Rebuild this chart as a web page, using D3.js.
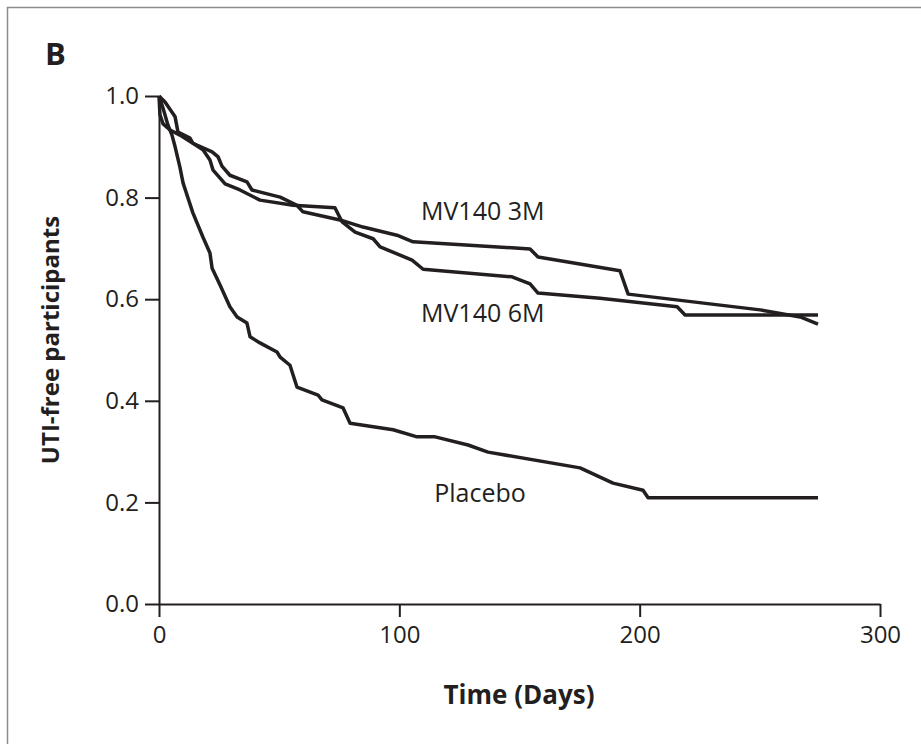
<!DOCTYPE html>
<html>
<head>
<meta charset="utf-8">
<script src="https://cdn.jsdelivr.net/npm/d3@7"></script>
<style>
  html, body { margin: 0; padding: 0; background: #fff; }
  svg { display: block; }
  text { font-family: "Open Sans", "Noto Sans", sans-serif; fill: #231f20; }
</style>
</head>
<body>
<svg id="chart" width="921" height="744"></svg>
<script>
// Kaplan-Meier style survival estimates: [day, proportion UTI-free]
const mv140_3M = [
  [0, 1.0], [2.5, 0.988], [6.7, 0.959], [7.9, 0.929], [12.9, 0.917], [14.1, 0.907],
  [22.1, 0.890], [24.6, 0.880], [26.2, 0.862], [29.5, 0.844], [36.6, 0.831],
  [38.7, 0.815], [50.4, 0.801], [57.4, 0.785], [59.9, 0.772], [75.3, 0.756],
  [84.9, 0.742], [99.0, 0.726], [105.7, 0.713], [154.4, 0.699], [157.7, 0.683],
  [191.8, 0.656], [195.2, 0.610], [250.1, 0.579], [266.8, 0.565], [274.2, 0.551]
];
const mv140_6M = [
  [0, 1.0], [0.4, 0.963], [1.7, 0.945], [4.6, 0.933], [8.7, 0.923], [14.1, 0.907],
  [18.3, 0.894], [21.2, 0.874], [22.5, 0.854], [27.5, 0.827], [33.7, 0.815],
  [42.0, 0.795], [55.8, 0.785], [73.2, 0.780], [76.2, 0.752], [81.6, 0.732],
  [89.1, 0.719], [92.0, 0.703], [105.3, 0.677], [109.9, 0.659], [146.9, 0.644],
  [154.4, 0.630], [157.7, 0.612], [183.5, 0.602], [215.6, 0.585], [218.9, 0.569],
  [274.2, 0.569]
];
const placebo = [
  [0, 1.0], [1.7, 0.976], [3.7, 0.943], [5.4, 0.923], [6.7, 0.900], [8.7, 0.860],
  [10.0, 0.829], [14.1, 0.770], [18.3, 0.722], [21.2, 0.691], [22.1, 0.661],
  [25.4, 0.628], [29.5, 0.585], [32.5, 0.565], [36.6, 0.553], [37.9, 0.526],
  [42.0, 0.514], [49.1, 0.496], [50.4, 0.486], [54.5, 0.470], [57.4, 0.427],
  [66.2, 0.411], [67.8, 0.402], [76.6, 0.386], [79.5, 0.356], [97.4, 0.343],
  [107.4, 0.329], [114.9, 0.329], [128.6, 0.313], [136.9, 0.299], [175.2, 0.268],
  [188.9, 0.238], [201.4, 0.224], [203.5, 0.209], [274.2, 0.209]
];

const seriesNames = ["MV140 3M", "MV140 6M", "Placebo"];
const xTicks = [0, 100, 200, 300];
const yTicks = [0, 0.2, 0.4, 0.6, 0.8, 1.0];

const ink = "#231f20";
const svg = d3.select("#chart");

// panel frame
svg.append("rect")
  .attr("x", 7.5).attr("y", 7.5)
  .attr("width", 940).attr("height", 760)
  .attr("fill", "none").attr("stroke", "#8c8c8c").attr("stroke-width", 1.5);

// panel letter
svg.append("text")
  .attr("x", 45).attr("y", 65)
  .style("font-size", "31px").style("font-weight", 700)
  .text("B");

const x = d3.scaleLinear().domain([0, 300]).range([159, 880]);
const y = d3.scaleLinear().domain([0, 1]).range([604, 96]);

const xAxis = svg.append("g")
  .attr("transform", `translate(0,${y(0)})`)
  .call(d3.axisBottom(x).tickValues(xTicks).tickSize(13).tickSizeOuter(0).tickPadding(9));

const yAxis = svg.append("g")
  .attr("transform", `translate(${x(0)},0)`)
  .call(d3.axisLeft(y).tickValues(yTicks).tickFormat(d3.format(".1f"))
    .tickSize(14).tickSizeOuter(0).tickPadding(6));

[xAxis, yAxis].forEach(g => {
  g.select(".domain").attr("stroke", ink).attr("stroke-width", 2);
  g.selectAll(".tick line").attr("stroke", ink).attr("stroke-width", 2);
  g.selectAll(".tick text")
    .style("font-size", "24px")
    .style("font-family", '"Open Sans", sans-serif')
    .attr("fill", ink);
});

// survival curves
const line = d3.line().x(d => x(d[0])).y(d => y(d[1]));
[mv140_3M, mv140_6M, placebo].forEach(data => {
  svg.append("path")
    .datum(data)
    .attr("d", line)
    .attr("fill", "none")
    .attr("stroke", ink)
    .attr("stroke-width", 3.5)
    .attr("stroke-linejoin", "round");
});

// curve labels
const labelPos = [[109, 0.756], [109, 0.555], [114.5, 0.20]];
seriesNames.forEach((name, i) => {
  svg.append("text")
    .attr("x", x(labelPos[i][0]))
    .attr("y", y(labelPos[i][1]))
    .style("font-size", "25px")
    .text(name);
});

// axis titles
svg.append("text")
  .attr("x", 519).attr("y", 704)
  .attr("text-anchor", "middle")
  .style("font-size", "26px").style("font-weight", 700)
  .text("Time (Days)");

svg.append("text")
  .attr("transform", "translate(59,340) rotate(-90)")
  .attr("text-anchor", "middle")
  .style("font-size", "24px").style("font-weight", 700)
  .text("UTI-free participants");
</script>
</body>
</html>
